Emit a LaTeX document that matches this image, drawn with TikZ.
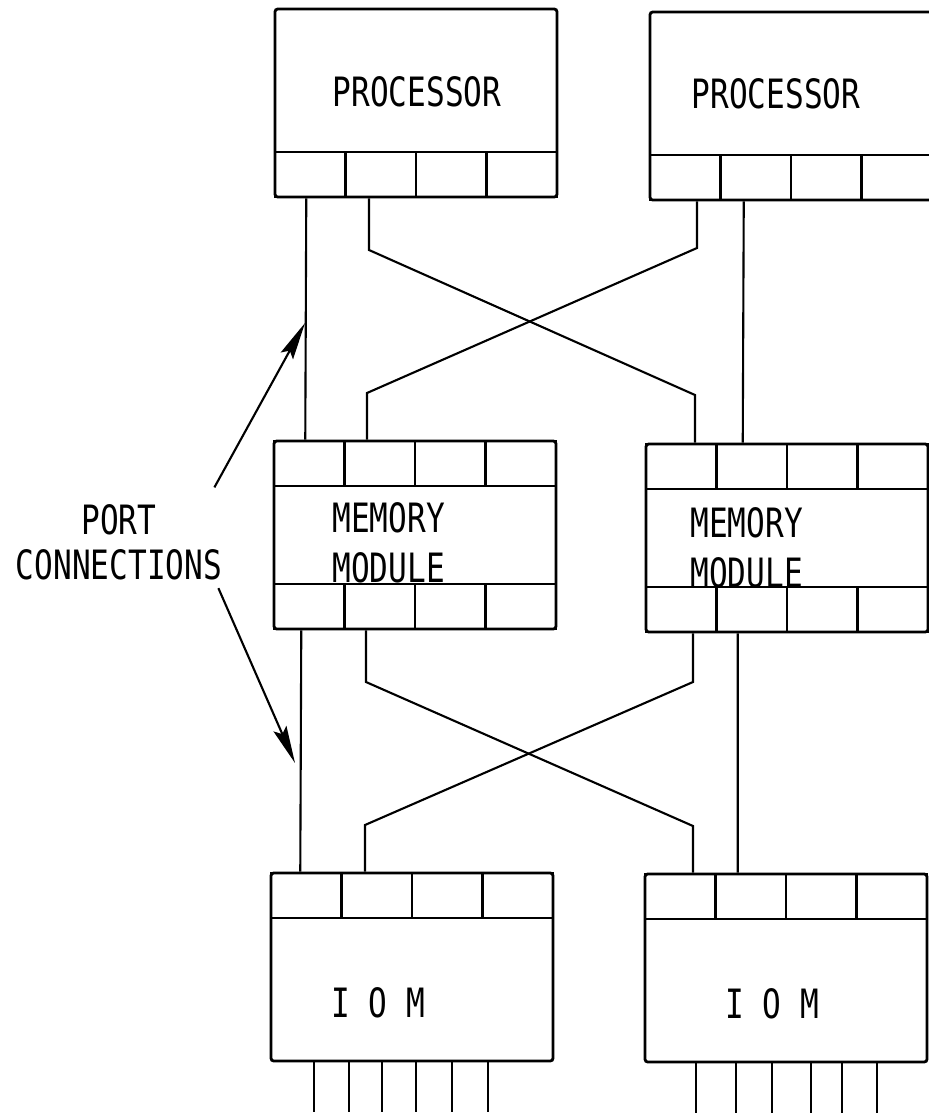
\documentclass[tikz,border=0pt]{standalone}
\usepackage{fontspec}
\newfontfamily\plotfont[FakeStretch=0.77]{DejaVu Sans Mono}
\usetikzlibrary{arrows.meta,positioning,calc}

\begin{document}
\begin{tikzpicture}[x=0.02cm,y=-0.02cm,
  font=\plotfont\fontsize{23}{28}\selectfont,
  unit/.style={draw,line width=1.6pt,rounded corners=1.5pt,minimum width=5.64cm,minimum height=3.76cm},
  port/.style={draw,line width=1.6pt,minimum width=1.41cm,minimum height=0.9cm,inner sep=0pt},
  w/.style={line width=1.2pt},
  ptr/.style={line width=1.2pt,-{Stealth[length=7.5mm,width=2.8mm,inset=1.2mm]}}]
  \useasboundingbox (0,0) rectangle (929,1117);
  \fill[white] (0,0) rectangle (929,1117);
  \clip (0,0) rectangle (929,1117);

  % the six units
  \node[unit] (procA) at (416,103) {};
  \node[unit] (procB) at (791,106) {};
  \node[unit] (memA) at (415,535) {};
  \node[unit] (memB) at (787,538) {};
  \node[unit] (iomA) at (412,967) {};
  \node[unit] (iomB) at (786,968) {};

  % four ports along one side of each unit
  \foreach \u/\p/\s in {procA/pa/south west,procB/pb/south west,
                        memA/ma/north west,memA/mc/south west,
                        memB/mb/north west,memB/md/south west,
                        iomA/ia/north west,iomB/ib/north west}
    \foreach \i in {1,...,4}
      \node[port,anchor=\s,xshift={(\i-1)*1.41cm}] (\p\i) at (\u.\s) {};

  \node[anchor=base] (tA) at (417,106) {PROCESSOR};
  \node[anchor=base] (tB) at (776,108) {PROCESSOR};
  \node[anchor=west,align=left,inner sep=0pt,font=\plotfont\fontsize{23}{28.5}\selectfont] (tC) at (332,543) {MEMORY\\MODULE};
  \node[anchor=west,align=left,inner sep=0pt,font=\plotfont\fontsize{23}{28.5}\selectfont] (tD) at (690,548) {MEMORY\\MODULE};
  \node[anchor=base] (tE) at (378,1017) {I O M};
  \node[anchor=base] (tF) at (772,1018) {I O M};

  % processor -> memory
  \draw[w] ([xshift=-0.08cm]pa1.south) -- ([xshift=-0.08cm]ma1.north);
  \draw[w] ([xshift=-0.24cm]pb2.south) -- ([xshift=-0.18cm]mb2.north);
  \coordinate (ka) at (369,250);
  \coordinate (kb) at (695,395);
  \draw[w] (pa2.south -| ka) -- (ka) -- (kb) -- (kb |- mb1.north);
  \coordinate (kc) at (697,248);
  \coordinate (kd) at (367,393);
  \draw[w] (pb1.south -| kc) -- (kc) -- (kd) -- (kd |- ma2.north);

  % memory -> iom
  \draw[w] ([xshift=-0.16cm]mc1.south) -- ([xshift=-0.12cm]ia1.north);
  \draw[w] ([xshift=-0.28cm]md2.south) -- ([xshift=-0.26cm]ib2.north);
  \coordinate (ke) at (366,682);
  \coordinate (kf) at (693,826);
  \draw[w] (mc2.south -| ke) -- (ke) -- (kf) -- (kf |- ib1.north);
  \coordinate (kg) at (693,682);
  \coordinate (kh) at (365,825);
  \draw[w] (md1.south -| kg) -- (kg) -- (kh) -- (kh |- ia2.north);

  % device lines
  \foreach \d in {44,79,112,146,182,218}
    \draw[w] ([xshift=\d*0.02cm]iomA.south west) -- ++(0,50);
  \foreach \d in {52,92,128,167,198,233}
    \draw[w] ([xshift=\d*0.02cm]iomB.south west) -- ++(0,50);

  % label
  \node[align=center,inner sep=0pt,font=\plotfont\fontsize{23}{25.6}\selectfont] (lbl) at (119,542) {PORT\\CONNECTIONS};
  \coordinate (tipU) at (305,323);
  \coordinate (tipL) at (295,763);
  \draw[ptr] ([xshift=-0.16cm,yshift=0.33cm]lbl.north east) -- (tipU);
  \draw[ptr] ([xshift=-0.08cm,yshift=-0.16cm]lbl.south east) -- (tipL);
\end{tikzpicture}
\end{document}
